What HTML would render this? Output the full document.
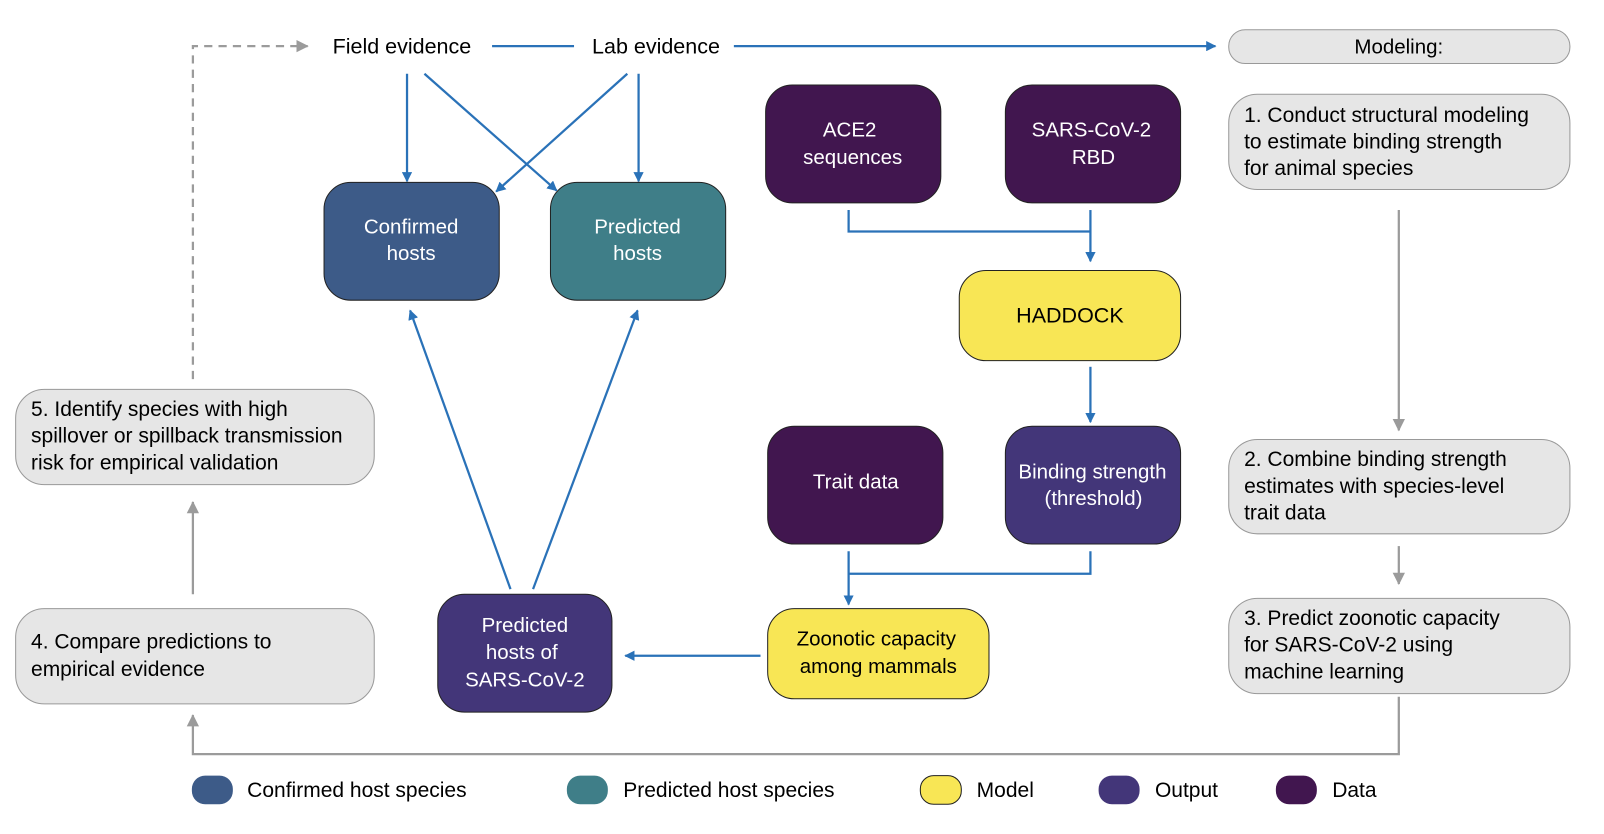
<!DOCTYPE html>
<html><head><meta charset="utf-8"><style>
html,body{margin:0;padding:0;background:#fff;width:1604px;height:834px;overflow:hidden}
svg text{font-family:"Liberation Sans",Arial,sans-serif}
</style></head><body>
<svg width="1604" height="834" viewBox="0 0 1565 814" xmlns="http://www.w3.org/2000/svg">
<defs>
<marker id="b" markerWidth="10" markerHeight="10" refX="9" refY="5" orient="auto" markerUnits="userSpaceOnUse" viewBox="0 0 10 10"><path d="M0,0 L10,5 L0,10 z" fill="#2a72b8"/></marker>
<marker id="g" markerWidth="12" markerHeight="12" refX="11" refY="6" orient="auto" markerUnits="userSpaceOnUse" viewBox="0 0 12 12"><path d="M0,0 L12,6 L0,12 z" fill="#9b9b9b"/></marker>
</defs>
<g fill="none" stroke="#2a72b8" stroke-width="2.2">
<line x1="480" y1="45" x2="560" y2="45"/>
<line x1="716" y1="45" x2="1186" y2="45" marker-end="url(#b)"/>
<line x1="397" y1="72" x2="397" y2="177" marker-end="url(#b)"/>
<line x1="414" y1="72" x2="543" y2="186" marker-end="url(#b)"/>
<line x1="612" y1="72" x2="484" y2="187" marker-end="url(#b)"/>
<line x1="623" y1="72" x2="623" y2="177" marker-end="url(#b)"/>
<polyline points="828,205 828,226 1064,226"/>
<line x1="1064" y1="205" x2="1064" y2="255" marker-end="url(#b)"/>
<line x1="1064" y1="358" x2="1064" y2="412" marker-end="url(#b)"/>
<polyline points="828,538 828,560 1064,560 1064,538"/>
<line x1="828" y1="560" x2="828" y2="590" marker-end="url(#b)"/>
<line x1="742" y1="640" x2="610" y2="640" marker-end="url(#b)"/>
<line x1="498" y1="575" x2="400" y2="303" marker-end="url(#b)"/>
<line x1="520" y1="575" x2="622" y2="303" marker-end="url(#b)"/>
</g>
<g fill="none" stroke="#9b9b9b" stroke-width="2.2">
<polyline points="188,370 188,45 300,45" stroke-dasharray="8,6" marker-end="url(#g)"/>
<line x1="1365" y1="205" x2="1365" y2="420" marker-end="url(#g)"/>
<line x1="1365" y1="533" x2="1365" y2="570" marker-end="url(#g)"/>
<polyline points="1365,680 1365,736 188,736 188,698" marker-end="url(#g)"/>
<line x1="188" y1="580" x2="188" y2="490" marker-end="url(#g)"/>
</g>
<g stroke="#222" stroke-width="1">
<rect x="316" y="178" width="171" height="115" rx="26" fill="#3d5b88"/>
<rect x="537" y="178" width="171" height="115" rx="26" fill="#3f7e88"/>
<rect x="747" y="83" width="171" height="115" rx="26" fill="#41164f"/>
<rect x="981" y="83" width="171" height="115" rx="26" fill="#41164f"/>
<rect x="936" y="264" width="216" height="88" rx="26" fill="#f8e655"/>
<rect x="749" y="416" width="171" height="115" rx="26" fill="#41164f"/>
<rect x="981" y="416" width="171" height="115" rx="26" fill="#433679"/>
<rect x="749" y="594" width="216" height="88" rx="26" fill="#f8e655"/>
<rect x="427" y="580" width="170" height="115" rx="26" fill="#433679"/>
</g>
<g fill="#e6e6e6" stroke="#999" stroke-width="1">
<rect x="1199" y="29" width="333" height="33" rx="16"/>
<rect x="1199" y="92" width="333" height="93" rx="28"/>
<rect x="1199" y="429" width="333" height="92" rx="28"/>
<rect x="1199" y="584" width="333" height="93" rx="28"/>
<rect x="15" y="380" width="350" height="93" rx="28"/>
<rect x="15" y="594" width="350" height="93" rx="28"/>
</g>
<g font-size="21" fill="#000">
<text x="392" y="52" text-anchor="middle">Field evidence</text>
<text x="640" y="52" text-anchor="middle">Lab evidence</text>
<text x="1365" y="52" text-anchor="middle" font-size="20">Modeling:</text>
<g font-size="20.5">
<text x="1214" y="119">1. Conduct structural modeling</text>
<text x="1214" y="145">to estimate binding strength</text>
<text x="1214" y="171">for animal species</text>
<text x="1214" y="455">2. Combine binding strength</text>
<text x="1214" y="481">estimates with species-level</text>
<text x="1214" y="507">trait data</text>
<text x="1214" y="610">3. Predict zoonotic capacity</text>
<text x="1214" y="636">for SARS-CoV-2 using</text>
<text x="1214" y="662">machine learning</text>
<text x="30" y="406">5. Identify species with high</text>
<text x="30" y="432">spillover or spillback transmission</text>
<text x="30" y="458">risk for empirical validation</text>
<text x="30" y="633">4. Compare predictions to</text>
<text x="30" y="660">empirical evidence</text>
</g>
<text x="1044" y="315" text-anchor="middle">HADDOCK</text>
<text x="855" y="630" text-anchor="middle" font-size="20">Zoonotic capacity</text>
<text x="857" y="657" text-anchor="middle" font-size="20">among mammals</text>
</g>
<g font-size="20" fill="#fff" text-anchor="middle">
<text x="401" y="228">Confirmed</text><text x="401" y="254">hosts</text>
<text x="622" y="228">Predicted</text><text x="622" y="254">hosts</text>
<text x="829" y="133">ACE2</text><text x="832" y="160">sequences</text>
<text x="1065" y="133">SARS-CoV-2</text><text x="1067" y="160">RBD</text>
<text x="835" y="477">Trait data</text>
<text x="1066" y="467">Binding strength</text><text x="1067" y="493">(threshold)</text>
<text x="512" y="617">Predicted</text><text x="509" y="643">hosts of</text><text x="512" y="670">SARS-CoV-2</text>
</g>
<g>
<rect x="187" y="757" width="40" height="28" rx="13" fill="#3d5b88"/>
<rect x="553" y="757" width="40" height="28" rx="13" fill="#3f7e88"/>
<rect x="898" y="757" width="40" height="28" rx="13" fill="#f8e655" stroke="#222" stroke-width="1"/>
<rect x="1072" y="757" width="40" height="28" rx="13" fill="#433679"/>
<rect x="1245" y="757" width="40" height="28" rx="13" fill="#41164f"/>
</g>
<g font-size="20.5" fill="#000">
<text x="241" y="778">Confirmed host species</text>
<text x="608" y="778">Predicted host species</text>
<text x="953" y="778">Model</text>
<text x="1127" y="778">Output</text>
<text x="1300" y="778">Data</text>
</g>
</svg>
</body></html>
